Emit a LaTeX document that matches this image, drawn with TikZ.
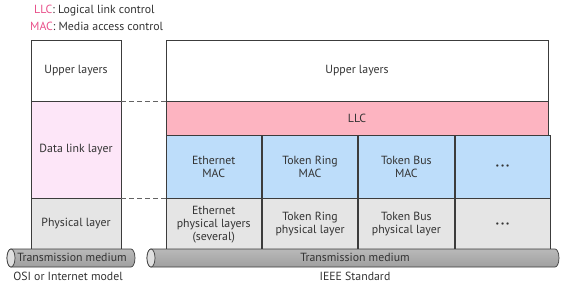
\documentclass[tikz,border=0pt]{standalone}
\usepackage{fontspec}
\setmainfont{PT Sans}
\usetikzlibrary{positioning, calc}
\definecolor{cInk}{HTML}{333333}
\definecolor{cLine}{HTML}{3C3C3C}
\definecolor{cDl}{HTML}{FDE6F8}
\definecolor{cLlc}{HTML}{FDB4C1}
\definecolor{cMac}{HTML}{BDDDFA}
\definecolor{cPhy}{HTML}{E5E5E5}
\definecolor{cKey}{HTML}{E8508A}
\newcommand{\dotrow}{{\fontsize{8}{8}\selectfont\textbullet\hspace{1.5pt}\textbullet\hspace{1.5pt}\textbullet}}
\tikzset{
  layer/.style={rectangle, draw=cLine, line width=0.8pt, align=center, text=cInk,
                font=\fontsize{11.8}{13}\selectfont, inner sep=2pt},
  osi/.style={layer, minimum width=90pt},
  col/.style={layer, minimum width=95.5pt},
  dashline/.style={draw=cLine!80, line width=0.8pt, dash pattern=on 5pt off 3pt},
  tube/.style={draw=cLine, line width=0.7pt, top color=gray!55, middle color=gray!8, bottom color=gray!75},
  tubeend/.style={draw=cLine, line width=0.7pt, fill=gray!25},
  lab/.style={font=\fontsize{11.8}{13}\selectfont, text=cInk, inner sep=1pt},
}
% horizontal tube: #1 left end x, #2 right end x, #3 top y, #4 bottom y
\newcommand{\medium}[4]{%
  \path[tube] (#2,#3) arc[start angle=-90, end angle=90, x radius=4, y radius={(#4-#3)/2}]
    -- (#1,#4) arc[start angle=90, end angle=270, x radius=4, y radius={(#4-#3)/2}] -- cycle;
  \path[tubeend] (#1,{(#3+#4)/2}) ellipse[x radius=4, y radius={(#4-#3)/2}];}

\begin{document}
\begin{tikzpicture}[x=1pt, y=-1pt]
  \useasboundingbox (0,0) rectangle (562,284);

  % ---- key
  \node[lab, anchor=west] (keyllc) at (33,11) {\textcolor{cKey}{LLC}: Logical link control};
  \node[lab, anchor=west] (keymac) at (29,26.5) {\textcolor{cKey}{MAC}: Media access control};

  % ---- OSI or Internet model
  \node[osi, minimum height=61pt] (osiup) at (76,70.5) {Upper layers};
  \node[osi, minimum height=97pt, fill=cDl] (osidl) at (76,149.5) {Data link layer};
  \node[osi, minimum height=51pt, fill=cPhy] (osiph) at (76,223.5) {Physical layer};

  % ---- IEEE standard
  \node[layer, minimum width=382pt, minimum height=61pt] (ieeeup) at (357,70.5) {Upper layers};
  \node[layer, minimum width=382pt, minimum height=34pt, fill=cLlc] (llc) at (357,118) {LLC};

  \node[col, minimum height=63pt, fill=cMac] (mac1) at (213.75,166.5) {Ethernet\\MAC};
  \node[col, minimum height=63pt, fill=cMac, right=0pt of mac1] (mac2) {Token Ring\\MAC};
  \node[col, minimum height=63pt, fill=cMac, right=0pt of mac2] (mac3) {Token Bus\\MAC};
  \node[col, minimum height=63pt, fill=cMac, right=0pt of mac3] (mac4) {\dotrow};

  \node[col, minimum height=51pt, fill=cPhy, below=0pt of mac1] (phy1) {Ethernet\\physical layers\\(several)};
  \node[col, minimum height=51pt, fill=cPhy, below=0pt of mac2] (phy2) {Token Ring\\physical layer};
  \node[col, minimum height=51pt, fill=cPhy, below=0pt of mac3] (phy3) {Token Bus\\physical layer};
  \node[col, minimum height=51pt, fill=cPhy, below=0pt of mac4] (phy4) {\dotrow};

  % ---- layer correspondence
  \draw[dashline] (osiup.south east) -- (ieeeup.south west);
  \draw[dashline] (osidl.south east) -- (phy1.north west);

  % ---- transmission media
  \medium{11}{131}{249}{267}
  \node[lab] (osimed) at (72,257.5) {Transmission medium};
  \medium{151}{555}{249}{267}
  \node[lab] (ieeemed) at (355,257.5) {Transmission medium};

  \node[lab] (osiname) at (68,276.5) {OSI or Internet model};
  \node[lab] (ieeename) at (355,276.5) {IEEE Standard};
\end{tikzpicture}
\end{document}
